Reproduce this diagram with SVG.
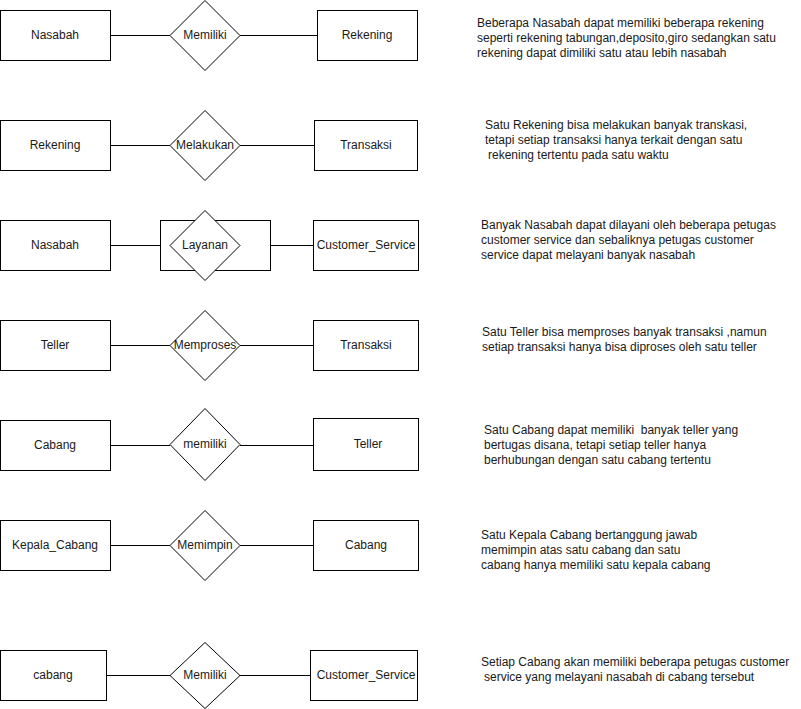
<svg xmlns="http://www.w3.org/2000/svg" width="801" height="709" viewBox="0 0 801 709">
<style>
.e{fill:#fff;stroke:#000;stroke-width:1}
.r{fill:#fff;stroke:#000;stroke-width:1}
.t{font-family:"Liberation Sans",Arial,sans-serif;font-size:12px;fill:#1a1a1a;text-anchor:middle}
.d{font-family:"Liberation Sans",Arial,sans-serif;font-size:12px;fill:#1a1a1a}
.c{stroke:#000;stroke-width:1;fill:none}
</style>
<rect width="801" height="709" fill="#fff"/>
<g id="connectors">
<path class="c" d="M110.5 35.5H170M240 35.5H317M110.5 145.5H170M240 145.5H314M110.5 245.5H160M270 245.5H313M110.5 345.5H170M240 345.5H313M110.5 445.5H170M240 445.5H313M110.5 545.5H170M240 545.5H313M106.5 675.5H170M240 675.5H310"/>
</g>
<g id="n1a"><rect class="e" x="0.5" y="10.5" width="110" height="50"/><text class="t" x="55" y="39">Nasabah</text></g>
<g id="n1r"><polygon class="r" points="205,0.5 240,35.5 205,70.5 170,35.5"/><text class="t" x="205" y="39">Memiliki</text></g>
<g id="n1b"><rect class="e" x="317.5" y="10.5" width="100" height="50"/><text class="t" x="367" y="39">Rekening</text></g>
<g id="n2a"><rect class="e" x="0.5" y="120.5" width="110" height="50"/><text class="t" x="55" y="149">Rekening</text></g>
<g id="n2r"><polygon class="r" points="205,110.5 240,145.5 205,180.5 170,145.5"/><text class="t" x="205" y="149">Melakukan</text></g>
<g id="n2b"><rect class="e" x="314.5" y="120.5" width="103" height="50"/><text class="t" x="366" y="149">Transaksi</text></g>
<g id="n3a"><rect class="e" x="0.5" y="220.5" width="110" height="50"/><text class="t" x="55" y="249">Nasabah</text></g>
<g id="n3r"><rect class="e" x="160.5" y="220.5" width="110" height="50"/><polygon class="r" points="205,210.5 240,245.5 205,280.5 170,245.5"/><text class="t" x="205" y="249">Layanan</text></g>
<g id="n3b"><rect class="e" x="313.5" y="220.5" width="105" height="50"/><text class="t" x="366" y="249">Customer_Service</text></g>
<g id="n4a"><rect class="e" x="0.5" y="320.5" width="110" height="50"/><text class="t" x="55" y="349">Teller</text></g>
<g id="n4r"><polygon class="r" points="205,310.5 240,345.5 205,380.5 170,345.5"/><text class="t" x="205" y="349">Memproses</text></g>
<g id="n4b"><rect class="e" x="313.5" y="320.5" width="105" height="50"/><text class="t" x="366" y="349">Transaksi</text></g>
<g id="n5a"><rect class="e" x="0.5" y="420.5" width="110" height="50"/><text class="t" x="55" y="449">Cabang</text></g>
<g id="n5r"><polygon class="r" points="205,408.5 240,444.5 205,480.5 170,444.5"/><text class="t" x="205" y="448">memiliki</text></g>
<g id="n5b"><rect class="e" x="313.5" y="418.5" width="105" height="52"/><text class="t" x="368" y="448">Teller</text></g>
<g id="n6a"><rect class="e" x="0.5" y="520.5" width="110" height="50"/><text class="t" x="55" y="549">Kepala_Cabang</text></g>
<g id="n6r"><polygon class="r" points="205,510.5 240,545.5 205,580.5 170,545.5"/><text class="t" x="205" y="549">Memimpin</text></g>
<g id="n6b"><rect class="e" x="313.5" y="520.5" width="105" height="50"/><text class="t" x="366" y="549">Cabang</text></g>
<g id="n7a"><rect class="e" x="0.5" y="650.5" width="106" height="50"/><text class="t" x="53" y="679">cabang</text></g>
<g id="n7r"><polygon class="r" points="205,642.5 240,675.5 205,708.5 170,675.5"/><text class="t" x="205" y="679">Memiliki</text></g>
<g id="n7b"><rect class="e" x="310.5" y="650.5" width="107" height="50"/><text class="t" x="366" y="679">Customer_Service</text></g>
<g id="desc1"><text class="d" x="477" y="27">Beberapa Nasabah dapat memiliki beberapa rekening</text><text class="d" x="477" y="42">seperti rekening tabungan,deposito,giro sedangkan satu</text><text class="d" x="477" y="57">rekening dapat dimiliki satu atau lebih nasabah</text></g>
<g id="desc2"><text class="d" x="485" y="129">Satu Rekening bisa melakukan banyak transkasi,</text><text class="d" x="485" y="144">tetapi setiap transaksi hanya terkait dengan satu</text><text class="d" x="488" y="159">rekening tertentu pada satu waktu</text></g>
<g id="desc3"><text class="d" x="481" y="229">Banyak Nasabah dapat dilayani oleh beberapa petugas</text><text class="d" x="481" y="244">customer service dan sebaliknya petugas customer</text><text class="d" x="481" y="259">service dapat melayani banyak nasabah</text></g>
<g id="desc4"><text class="d" x="482" y="336">Satu Teller bisa memproses banyak transaksi ,namun</text><text class="d" x="482" y="351">setiap transaksi hanya bisa diproses oleh satu teller</text></g>
<g id="desc5"><text class="d" x="484" y="434" xml:space="preserve">Satu Cabang dapat memiliki  banyak teller yang</text><text class="d" x="484" y="449">bertugas disana, tetapi setiap teller hanya</text><text class="d" x="484" y="464">berhubungan dengan satu cabang tertentu</text></g>
<g id="desc6"><text class="d" x="481" y="539">Satu Kepala Cabang bertanggung jawab</text><text class="d" x="481" y="554">memimpin atas satu cabang dan satu</text><text class="d" x="481" y="569">cabang hanya memiliki satu kepala cabang</text></g>
<g id="desc7"><text class="d" x="481" y="666">Setiap Cabang akan memiliki beberapa petugas customer</text><text class="d" x="484" y="681">service yang melayani nasabah di cabang tersebut</text></g>
</svg>
